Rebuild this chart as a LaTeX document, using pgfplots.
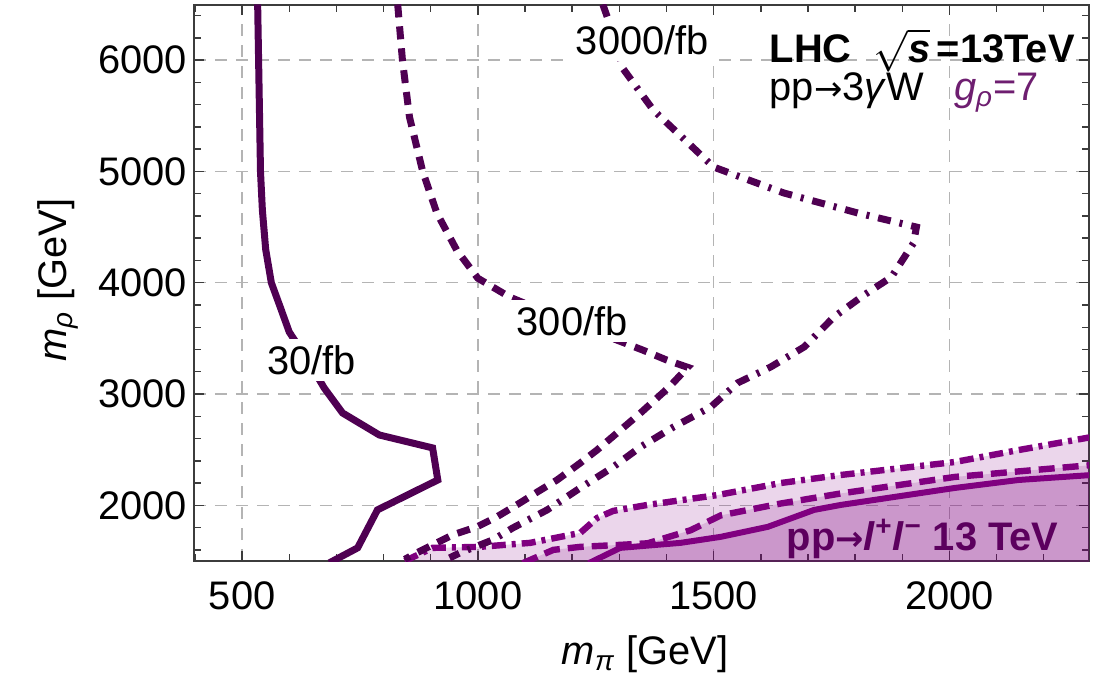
\documentclass[border=0pt]{standalone}
\usepackage{fontspec}
\setmainfont{Liberation Sans}
\newfontfamily\dv{DejaVu Sans}
\usepackage{pgfplots}
\pgfplotsset{compat=1.18}
\definecolor{dk}{HTML}{4F0052}
\definecolor{br}{HTML}{800080}
\definecolor{gridc}{HTML}{B4B4B4}
\definecolor{framec}{HTML}{3C3C3C}
\definecolor{gcol}{HTML}{6E1E70}
\definecolor{llcol}{HTML}{5C005E}
\newcommand{\fs}{\fontsize{20}{24}\selectfont}
\newcommand{\arr}{{\dv\fontsize{17}{20}\selectfont →}}
\begin{document}
\begin{tikzpicture}
\useasboundingbox (-97bp,-59bp) rectangle (462.5bp,280.5bp);
\begin{axis}[
  scale only axis, width=447.5bp, height=278bp,
  xmin=398, xmax=2296, ymin=1500, ymax=6495,
  axis line style={draw=framec, line width=0.8bp},
  tick style={draw=framec, line width=0.7bp},
  major tick length=5bp, minor tick length=3.5bp,
  tick align=inside,
  xtick={500,1000,1500,2000}, minor xtick={400,500,...,2300},
  ytick={2000,3000,4000,5000,6000}, minor ytick={1600,1800,...,6400},
  grid=major,
  major grid style={draw=gridc, line width=0.7bp, dash pattern=on 6bp off 4.5bp},
  ticklabel style={font=\fs},
  /pgf/number format/assume math mode=true,
  /pgf/number format/1000 sep={},
  xticklabel style={yshift=-7bp},
  clip mode=individual,
]
% filled dilepton regions
\addplot[draw=none, fill=br, fill opacity=0.16] coordinates {
 (845,1500) (904,1618) (1004,1627) (1111,1663) (1217,1752) (1253,1887) (1287,1950) (1360,2004)
 (1509,2093) (1643,2201) (1770,2273) (2011,2389) (2147,2497) (2310,2620) (2310,1400) (845,1400)} -- cycle;
\addplot[draw=none, fill=br, fill opacity=0.16] coordinates {
 (1095,1480) (1160,1600) (1217,1627) (1302,1645) (1360,1659) (1451,1776) (1515,1910) (1643,2017)
 (1770,2107) (2011,2255) (2310,2365) (2310,1400) (1095,1400)} -- cycle;
\addplot[draw=none, fill=br, fill opacity=0.16] coordinates {
 (1235,1480) (1302,1618) (1430,1663) (1515,1717) (1615,1807) (1713,1959) (1770,2004) (2011,2156)
 (2147,2228) (2310,2275) (2310,1400) (1235,1400)} -- cycle;
% bright boundaries
\addplot[br, line width=3.2bp, dash pattern=on 7bp off 3bp on 2bp off 3bp] coordinates {
 (845,1500) (904,1618) (1004,1627) (1111,1663) (1217,1752) (1253,1887) (1287,1950) (1360,2004)
 (1509,2093) (1643,2201) (1770,2273) (2011,2389) (2147,2497) (2310,2620)};
\addplot[br, line width=3.2bp, dash pattern=on 8bp off 4bp] coordinates {
 (1095,1480) (1160,1600) (1217,1627) (1302,1645) (1360,1659) (1451,1776) (1515,1910) (1643,2017)
 (1770,2107) (2011,2255) (2310,2365)};
\addplot[br, line width=3bp] coordinates {
 (1235,1480) (1302,1618) (1430,1663) (1515,1717) (1615,1807) (1713,1959) (1770,2004) (2011,2156)
 (2147,2228) (2310,2275)};
% 30/fb solid
\addplot[dk, line width=3.5bp] coordinates {
 (533,6500) (535,6000) (537,5500) (539,5000) (543,4653) (550,4300) (562,4000) (581,3780) (600,3557)
 (640,3300) (674,3055) (713,2830) (791,2632) (904,2516) (915,2228) (787,1959) (745,1618) (685,1483)};
% 300/fb dashed
\addplot[dk, line width=3.5bp, dash pattern=on 6.5bp off 4.5bp] coordinates {
 (830,6500) (840,6000) (855,5488) (883,5000) (913,4626) (955,4294) (1000,4040) (1068,3870)
 (1200,3640) (1349,3396) (1400,3306) (1445,3240) (1406,3064) (1345,2830) (1253,2498) (1217,2380)
 (1168,2228) (1126,2120) (1089,2021) (1040,1896) (998,1807) (947,1735) (904,1645) (862,1555) (845,1515)};
% 3000/fb dash-dot
\addplot[dk, line width=3.5bp, dash pattern=on 6.5bp off 4.5bp on 1.5bp off 4.5bp] coordinates {
 (1265,6500) (1290,6200) (1307,5928) (1372,5551) (1500,5039) (1649,4806) (1806,4626) (1930,4500)
 (1924,4357) (1877,4051) (1819,3890) (1755,3692) (1692,3423) (1621,3243) (1551,3100) (1494,2884)
 (1415,2704) (1345,2525) (1287,2345) (1217,2156) (1147,1959) (1074,1797) (1032,1690) (962,1573) (940,1528)};
% labels
\node[fill=white, inner sep=3bp, font=\fs] at (axis cs:647,3306) {30/fb};
\node[fill=white, inner sep=3bp, font=\fs] at (axis cs:1200,3656) {300/fb};
\node[fill=white, inner sep=3bp, font=\fs] at (axis cs:1349,6180) {3000/fb};
\node[anchor=base west, inner sep=0pt, font=\fs\bfseries] at (axis cs:1618,5975) {LHC \ $\sqrt{\textbf{\textit{s}}}$\,=13TeV};
\node[anchor=base west, inner sep=0pt, font=\fs] at (axis cs:1618,5640) {pp\arr3\textit{γ}W};
\node[anchor=base west, inner sep=0pt, font=\fs, text=gcol] at (axis cs:2009,5640) {\textit{g}\textsubscript{\textit{ρ}}=7};
\node[anchor=base west, inner sep=0pt, font=\fs\bfseries, text=llcol] at (axis cs:1654,1596) {pp{\dv\bfseries\fontsize{17}{20}\selectfont →}\textit{l}\textsuperscript{+}\textit{l}\textsuperscript{−} 13 TeV};
\node[anchor=base, inner sep=0pt, font=\fs] at (axis description cs:0.504,-0.186) {\textit{m}\textsubscript{\textit{π}} [GeV]};
\node[anchor=base, rotate=90, inner sep=0pt, font=\fs] at (axis description cs:-0.143,0.505) {\textit{m}\textsubscript{\textit{ρ}} [GeV]};
\end{axis}
\end{tikzpicture}
\end{document}
